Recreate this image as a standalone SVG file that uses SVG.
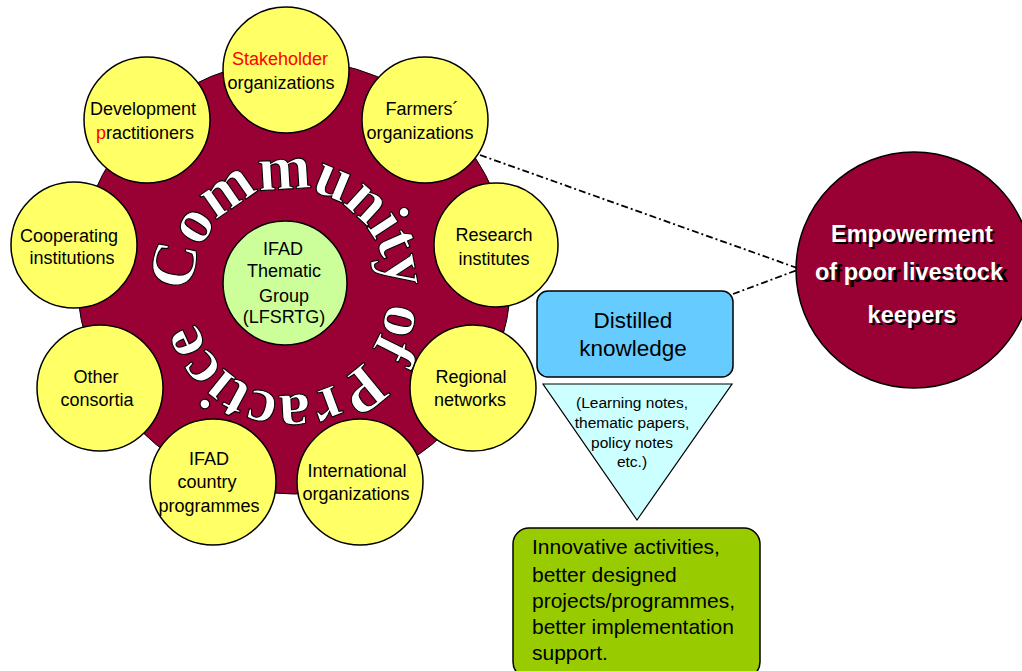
<svg xmlns="http://www.w3.org/2000/svg" width="1022" height="671" viewBox="0 0 1022 671">
<style>
.t{font-family:"Liberation Sans",Arial,sans-serif;fill:#000;text-anchor:middle}
.y{fill:#FFFF66;stroke:#000;stroke-width:1.5}
.c18{font-size:18px}
.red{fill:#FF0000}
.dd{fill:none;stroke:#000;stroke-width:1.8;stroke-dasharray:7 3 2 3}
.emp{font-family:"Liberation Sans",Arial,sans-serif;font-weight:bold;font-size:23.5px;text-anchor:middle}
</style>
<defs>
<path id="arcPath" d="M 192 292 A 98 103 0 1 1 388 292 A 98 103 0 1 1 192 292"/>
</defs>
<rect width="1022" height="671" fill="#fff"/>

<g id="community">
<circle cx="294" cy="277" r="217" fill="#990033" stroke="#000" stroke-width="1"/>
<text font-family="'Liberation Serif','Times New Roman',serif" font-weight="bold" font-size="64" letter-spacing="-1.8" fill="#fff" stroke="#000" stroke-width="1.1"><textPath href="#arcPath" startOffset="0">Community of Practice</textPath></text>
</g>

<g id="connectors">
<line class="dd" x1="480" y1="155" x2="800" y2="269"/>
<line class="dd" x1="733" y1="294" x2="800" y2="269"/>
</g>

<g id="stakeholder">
<circle class="y" cx="286" cy="70" r="63"/>
<text class="t c18" x="280" y="65"><tspan class="red">Stakeholder</tspan></text>
<text class="t c18" x="281" y="89">organizations</text>
</g>
<g id="development">
<circle class="y" cx="147" cy="120" r="63"/>
<text class="t c18" x="143" y="115">Development</text>
<text class="t c18" x="145" y="139"><tspan class="red">p</tspan>ractitioners</text>
</g>
<g id="farmers">
<circle class="y" cx="425" cy="120" r="63"/>
<text class="t c18" x="422" y="115">Farmers´</text>
<text class="t c18" x="420" y="139">organizations</text>
</g>
<g id="cooperating">
<circle class="y" cx="74" cy="245" r="63"/>
<text class="t c18" x="69" y="242">Cooperating</text>
<text class="t c18" x="72" y="264">institutions</text>
</g>
<g id="research">
<circle class="y" cx="496" cy="245" r="62"/>
<text class="t c18" x="494" y="241">Research</text>
<text class="t c18" x="494" y="265">institutes</text>
</g>
<g id="other">
<circle class="y" cx="100" cy="388" r="63"/>
<text class="t c18" x="96" y="383">Other</text>
<text class="t c18" x="97" y="406">consortia</text>
</g>
<g id="regional">
<circle class="y" cx="473" cy="388" r="63"/>
<text class="t c18" x="471" y="383">Regional</text>
<text class="t c18" x="470" y="406">networks</text>
</g>
<g id="ifadcountry">
<circle class="y" cx="213" cy="482" r="63"/>
<text class="t c18" x="209" y="465">IFAD</text>
<text class="t c18" x="207" y="488">country</text>
<text class="t c18" x="209" y="512">programmes</text>
</g>
<g id="international">
<circle class="y" cx="360" cy="482" r="63"/>
<text class="t c18" x="357" y="477">International</text>
<text class="t c18" x="356" y="500">organizations</text>
</g>
<g id="thematic">
<circle cx="285" cy="283" r="62" fill="#CCFF99" stroke="#000" stroke-width="1.5"/>
<text class="t c18" x="283" y="255">IFAD</text>
<text class="t c18" x="284" y="277">Thematic</text>
<text class="t c18" x="284" y="302">Group</text>
<text class="t c18" x="284" y="323">(LFSRTG)</text>
</g>

<g id="empowerment">
<circle cx="914" cy="270" r="118" fill="#990033" stroke="#000" stroke-width="1.5"/>
<g fill="#000">
<text class="emp" x="914" y="244">Empowerment</text>
<text class="emp" x="914" y="282">of poor livestock</text>
<text class="emp" x="914" y="325">keepers</text>
</g>
<g fill="#fff">
<text class="emp" x="912" y="242">Empowerment</text>
<text class="emp" x="909" y="280">of poor livestock</text>
<text class="emp" x="912" y="323">keepers</text>
</g>
</g>

<g id="distilled">
<rect x="537" y="291" width="196" height="86" rx="11" fill="#66CCFF" stroke="#000" stroke-width="1.5"/>
<text class="t" font-size="22.5" x="633" y="328">Distilled</text>
<text class="t" font-size="22.5" x="633" y="356">knowledge</text>
</g>

<g id="triangle">
<polygon points="543,384 732,384 637,520" fill="#CCFFFF" stroke="#000" stroke-width="1.2"/>
<text class="t" font-size="15.5" x="632" y="408">(Learning notes,</text>
<text class="t" font-size="15.5" x="632" y="428">thematic papers,</text>
<text class="t" font-size="15.5" x="632" y="448">policy notes</text>
<text class="t" font-size="15.5" x="632" y="467">etc.)</text>
</g>

<g id="innovative">
<rect x="513" y="528" width="247" height="150" rx="16" fill="#99CC00" stroke="#000" stroke-width="1.5"/>
<g font-family="'Liberation Sans',Arial,sans-serif" font-size="21">
<text x="532" y="554">Innovative activities,</text>
<text x="532" y="582">better designed</text>
<text x="532" y="608">projects/programmes,</text>
<text x="532" y="634">better implementation</text>
<text x="532" y="660">support.</text>
</g>
</g>
</svg>
